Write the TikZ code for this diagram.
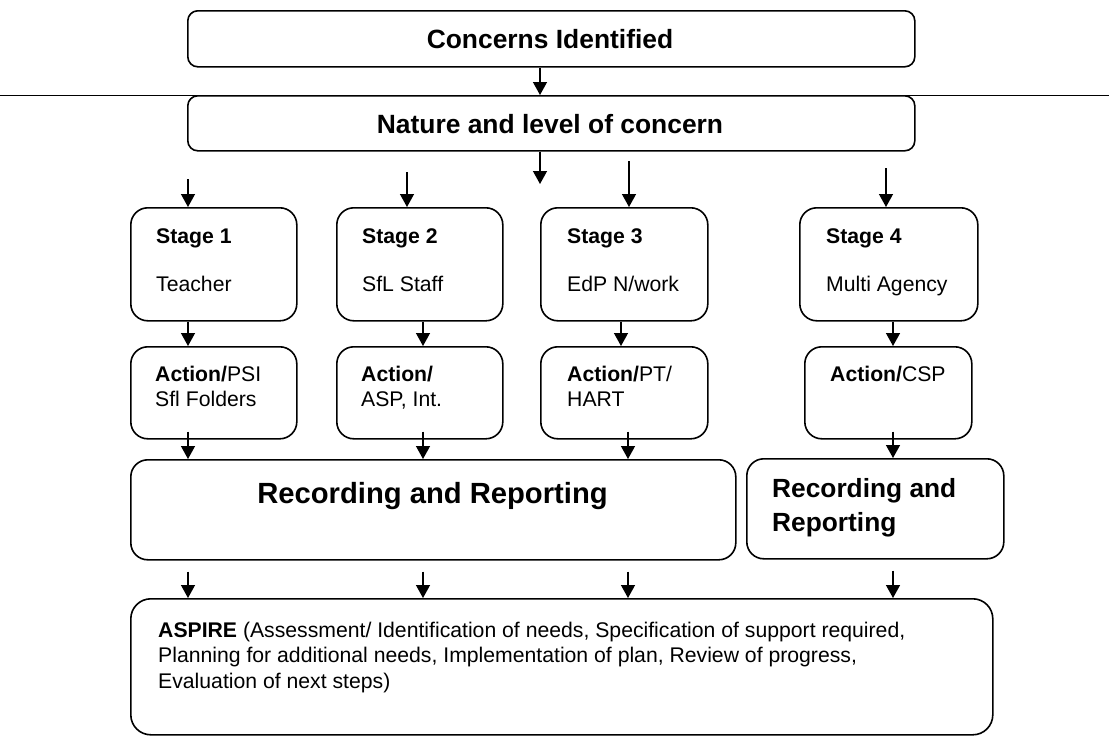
\documentclass[tikz,border=0pt]{standalone}
\usepackage{fontspec}
\setmainfont{Liberation Sans}
\usetikzlibrary{arrows.meta}
\newcommand\txtbody{\fontsize{21.2pt}{25.5pt}\selectfont}
\newcommand\txthead{\fontsize{26.4pt}{31pt}\selectfont\bfseries}
\newcommand\txtrecA{\fontsize{29.2pt}{34pt}\selectfont\bfseries}
\newcommand\txtrecB{\fontsize{26.3pt}{34pt}\selectfont\bfseries}
\newcommand\linestack[1]{\begin{tabular}[t]{@{}l@{}}#1\end{tabular}}
\begin{document}
\begin{tikzpicture}[x=1pt,y=-1pt,
  box/.style={draw, line width=1.6pt, rounded corners=#1, inner sep=0pt, anchor=north west},
  box/.default=17pt,
  lbl/.style={inner sep=0pt, anchor=base west, font=\txtbody},
  head/.style={inner sep=0pt, anchor=base, font=\txthead},
  arr/.style={line width=1.4pt, -{Triangle[width=14pt,length=13pt]}},
  rule/.style={line width=1.6pt}]
\useasboundingbox (0,0) rectangle (1109,736);

% full-width rule
\coordinate (hl) at (0,95.5);
\coordinate (hr) at (1109,95.5);
\draw[rule] (hl) -- (hr);

% top boxes
\node[box=10pt, minimum width=727pt, minimum height=56pt] (conc) at (187,10) {};
\node[box=10pt, minimum width=727pt, minimum height=55pt, fill=white] (nat) at (187,95) {};
\node[head] (concT) at (550,48) {Concerns Identified};
\node[head] (natT) at (550,133) {Nature and level of concern};

% stage boxes
\node[box, minimum width=166pt, minimum height=113pt] (s1) at (130,207) {};
\node[box, minimum width=166pt, minimum height=113pt] (s2) at (336,207) {};
\node[box, minimum width=167pt, minimum height=113pt] (s3) at (540,207) {};
\node[box, minimum width=178pt, minimum height=113pt] (s4) at (799,207) {};

\node[lbl] (s1h) at (156,243) {\textbf{Stage 1}};
\node[lbl] (s1r) at (156,291) {Teacher};
\node[lbl] (s2h) at (362,243) {\textbf{Stage 2}};
\node[lbl] (s2r) at (362,291) {SfL Staff};
\node[lbl] (s3h) at (567,243) {\textbf{Stage 3}};
\node[lbl] (s3r) at (567,291) {EdP N/work};
\node[lbl] (s4h) at (826,243) {\textbf{Stage 4}};
\node[lbl] (s4r) at (826,291) {Multi Agency};

% action boxes
\node[box, minimum width=166pt, minimum height=92pt] (a1) at (130,346) {};
\node[box, minimum width=166pt, minimum height=92pt] (a2) at (336,346) {};
\node[box, minimum width=167pt, minimum height=92pt] (a3) at (540,346) {};
\node[box, minimum width=167pt, minimum height=92pt] (a4) at (804,346) {};

\node[lbl] (a1t) at (155,381) {\linestack{\textbf{Action/}PSI\\Sfl Folders}};
\node[lbl] (a2t) at (361,381) {\linestack{\textbf{Action/}\\ASP, Int.}};
\node[lbl] (a3t) at (567,381) {\linestack{\textbf{Action/}PT/\\HART}};
\node[lbl] (a4t) at (830,381) {\textbf{Action/}CSP};

% recording and reporting
\node[box, minimum width=605pt, minimum height=100pt] (rr1) at (130,459) {};
\node[box, minimum width=257pt, minimum height=100pt] (rr2) at (746,458) {};
\node[inner sep=0pt, anchor=base, font=\txtrecA] (rr1t) at (432.5,503) {Recording and Reporting};
\node[inner sep=0pt, anchor=base west, font=\txtrecB] (rr2t) at (772,497) {\linestack{Recording and\\Reporting}};

% ASPIRE
\node[box=20pt, minimum width=862pt, minimum height=136pt] (asp) at (130,598) {};
\node[lbl] (aspT) at (158,637) {\linestack{\textbf{ASPIRE} (Assessment/ Identification of needs, Specification of support required,\\Planning for additional needs, Implementation of plan, Review of progress,\\Evaluation of next steps)}};

% column positions
\coordinate (xa) at (188,0);
\coordinate (xb) at (423,0);
\coordinate (xc) at (621,0);
\coordinate (xc2) at (628,0);
\coordinate (xd) at (893,0);
\coordinate (xm) at (540,0);

% arrows at the top
\draw[arr] (conc.south -| xm) -- (nat.north -| xm);
\coordinate (nfree) at (540,184);
\draw[arr] (nat.south -| xm) -- (nfree);
\coordinate (f1) at (188,179);
\coordinate (f2) at (407,172);
\coordinate (f3) at (629,161);
\coordinate (f4) at (886,168);
\draw[arr] (f1) -- (s1.north -| f1);
\draw[arr] (f2) -- (s2.north -| f2);
\draw[arr] (f3) -- (s3.north -| f3);
\draw[arr] (f4) -- (s4.north -| f4);

% stage to action
\draw[arr] (s1.south -| xa) -- (a1.north -| xa);
\draw[arr] (s2.south -| xb) -- (a2.north -| xb);
\draw[arr] (s3.south -| xc) -- (a3.north -| xc);
\draw[arr] (s4.south -| xd) -- (a4.north -| xd);

% action to recording
\draw[arr] (a1.south -| xa) ++(0,-8) -- (rr1.north -| xa);
\draw[arr] (a2.south -| xb) ++(0,-8) -- (rr1.north -| xb);
\draw[arr] (a3.south -| xc2) ++(0,-8) -- (rr1.north -| xc2);
\draw[arr] (a4.south -| xd) ++(0,-8) -- (rr2.north -| xd);

% recording to ASPIRE
\draw[arr] (rr1.south -| xa) ++(0,11) -- (asp.north -| xa);
\draw[arr] (rr1.south -| xb) ++(0,11) -- (asp.north -| xb);
\draw[arr] (rr1.south -| xc2) ++(0,11) -- (asp.north -| xc2);
\draw[arr] (rr2.south -| xd) ++(0,11) -- (asp.north -| xd);
\end{tikzpicture}
\end{document}
